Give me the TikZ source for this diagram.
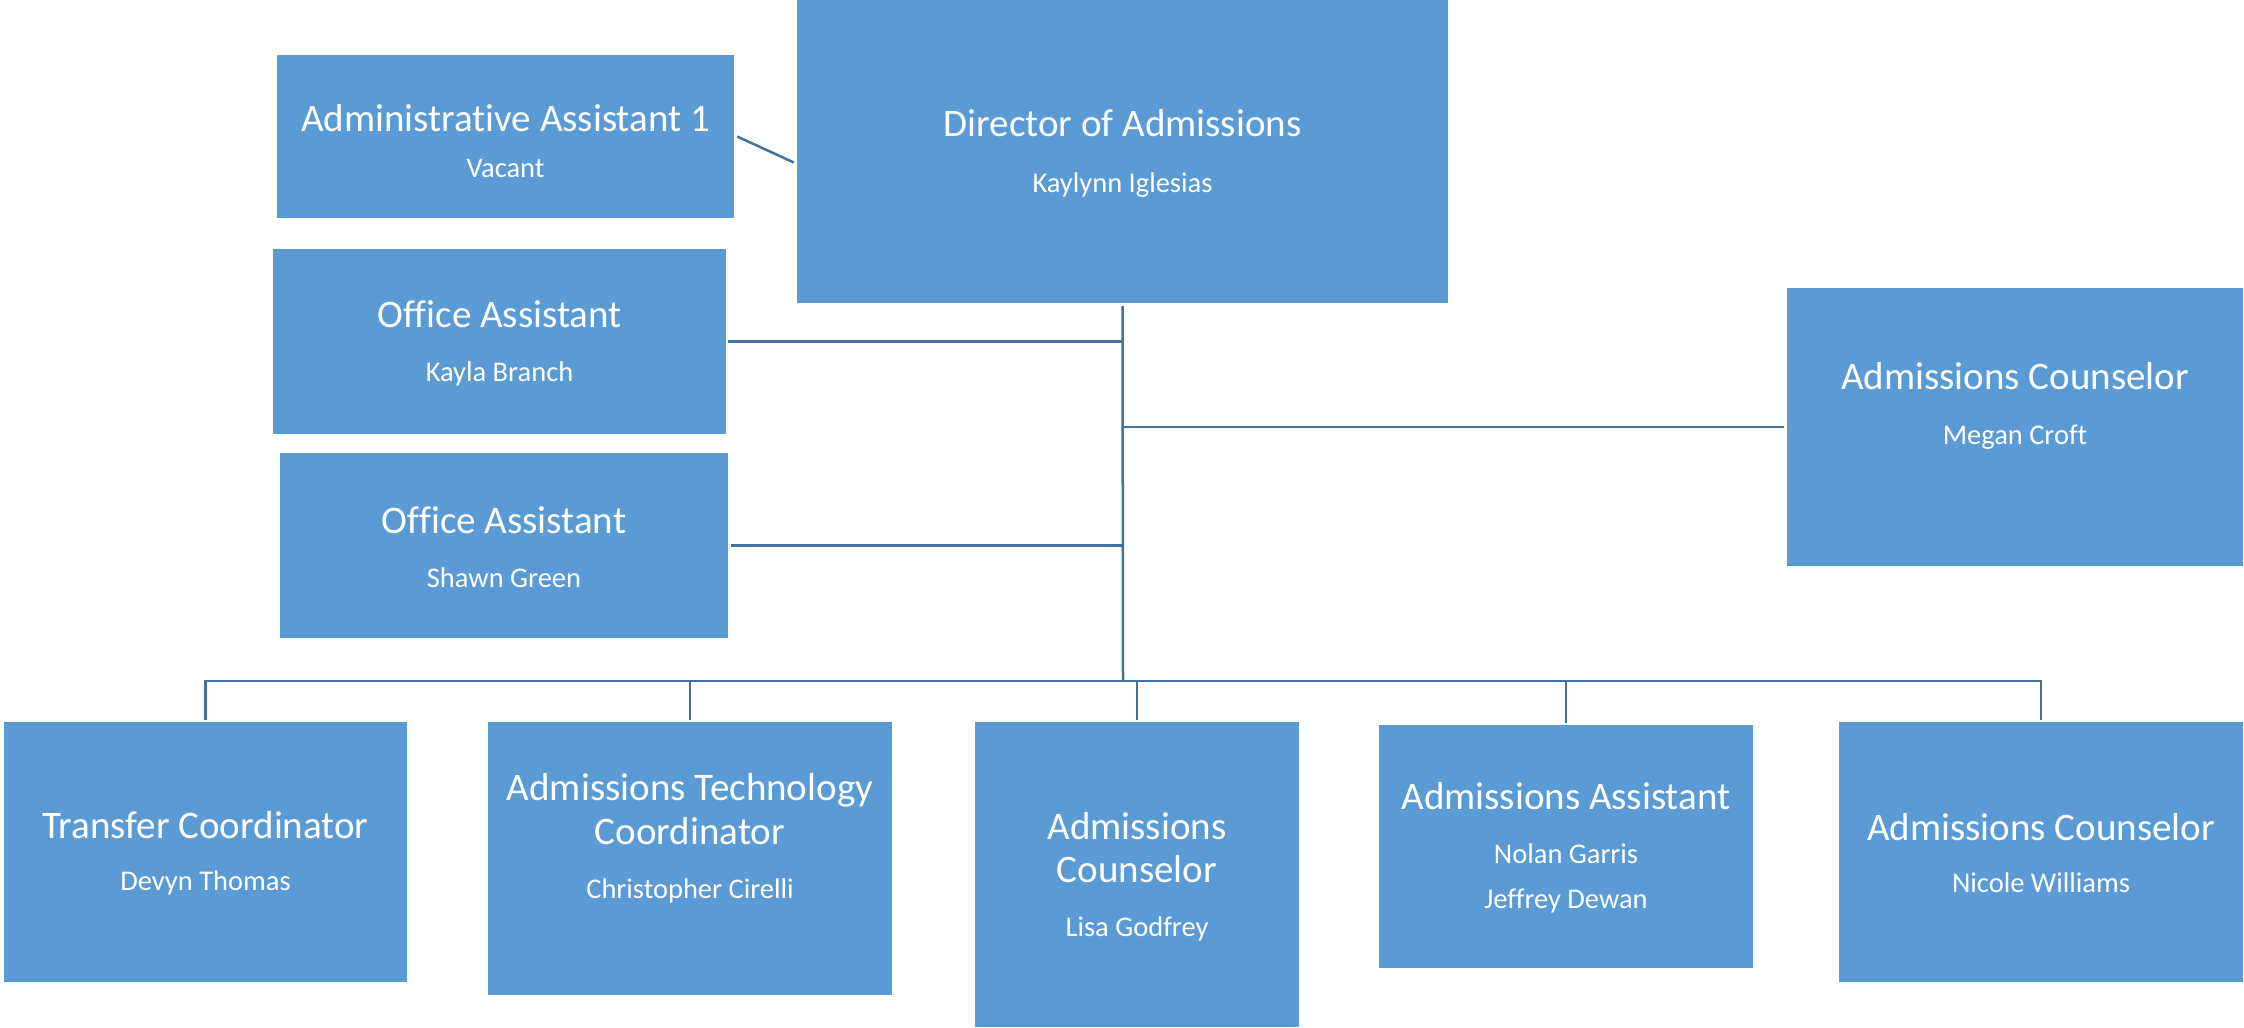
\documentclass[tikz,border=0pt]{standalone}
\usepackage{fontspec}
\setmainfont{Carlito}[Ligatures=NoCommon]
\usetikzlibrary{positioning}
\definecolor{boxblue}{HTML}{5B9BD5}
\definecolor{lineblue}{HTML}{41719C}
\newcommand{\ttl}{\fontsize{39}{43}\selectfont}
\newcommand{\nm}{\fontsize{28.5}{46}\selectfont}

\begin{document}
\begin{tikzpicture}[x=1pt,y=-1pt,
		unit/.style={rectangle,fill=boxblue,inner sep=0pt},
		txt/.style={text=white,align=center,inner sep=0pt},
		link/.style={draw=lineblue,line width=2.5pt}]
		\useasboundingbox (0,0) rectangle (2244,1028);
		% top row
		\node[unit,minimum width=457pt,minimum height=163pt] (aa) at (505.5,136.5) {};
		\node[unit,minimum width=651pt,minimum height=303pt] (dir) at (1122.5,151.5) {};
		\node[unit,minimum width=453pt,minimum height=185pt] (oa1) at (499.5,341.5) {};
		\node[unit,minimum width=448pt,minimum height=185pt] (oa2) at (504,545.5) {};
		\node[unit,minimum width=456pt,minimum height=278pt] (ac1) at (2015,427) {};
		% bottom row
		\node[unit,minimum width=403pt,minimum height=260pt] (tc) at (205.5,852) {};
		\node[unit,minimum width=404pt,minimum height=273pt] (atc) at (690,858.5) {};
		\node[unit,minimum width=324pt,minimum height=305pt] (ac2) at (1137,874.5) {};
		\node[unit,minimum width=374pt,minimum height=243pt] (aas) at (1566,846.5) {};
		\node[unit,minimum width=404pt,minimum height=260pt] (ac3) at (2041,852) {};
		% texts
		\node[txt] (aa-t) at (505.5,141) {\ttl Administrative Assistant 1\\[26pt]\nm Vacant};
		\node[txt] (dir-t) at (1122.5,153) {\ttl Director of Admissions\\[35pt]\nm Kaylynn Iglesias};
		\node[txt] (oa1-t) at (499.5,343) {\ttl Office Assistant\\[33pt]\nm Kayla Branch};
		\node[txt] (oa2-t) at (504,547) {\ttl Office Assistant\\[33pt]\nm Shawn Green};
		\node[txt] (ac1-t) at (2015,406) {\ttl Admissions Counselor\\[34pt]\nm Megan Croft};
		\node[txt] (tc-t) at (205.5,853) {\ttl Transfer Coordinator\\[31pt]\nm Devyn Thomas};
		\node[txt] (atc-t) at (690,838.5) {\ttl Admissions Technology\\[9pt]\ttl Coordinator\\[33pt]\nm Christopher Cirelli};
		\node[txt] (ac2-t) at (1137,877) {\ttl Admissions\\[15pt]\ttl Counselor\\[33pt]\nm Lisa Godfrey};
		\node[txt] (aas-t) at (1566,848) {\ttl Admissions Assistant\\[33pt]\nm Nolan Garris\\[24pt]\nm Jeffrey Dewan};
		\node[txt] (ac3-t) at (2041,853) {\ttl Admissions Counselor\\[31pt]\nm Nicole Williams};
		% connectors
		\coordinate (bus) at (1123,681);
		\draw[link] ([xshift=3pt]aa.east) -- ([xshift=-3pt,yshift=-11pt]dir.west);
		\draw[link] ([yshift=-3pt]dir.south) -- (bus);
		\draw[link] ([xshift=2pt]oa1.east) -- (oa1.east -| bus);
		\draw[link] ([xshift=3pt]oa2.east) -- (oa2.east -| bus);
		\draw[link] (ac1.west -| bus) -- ([xshift=-3pt]ac1.west);
		\foreach \b in {tc,atc,ac2,aas,ac3}
			\draw[link] (bus) -| ([yshift=2pt]\b.north);
	\end{tikzpicture}
\end{document}
